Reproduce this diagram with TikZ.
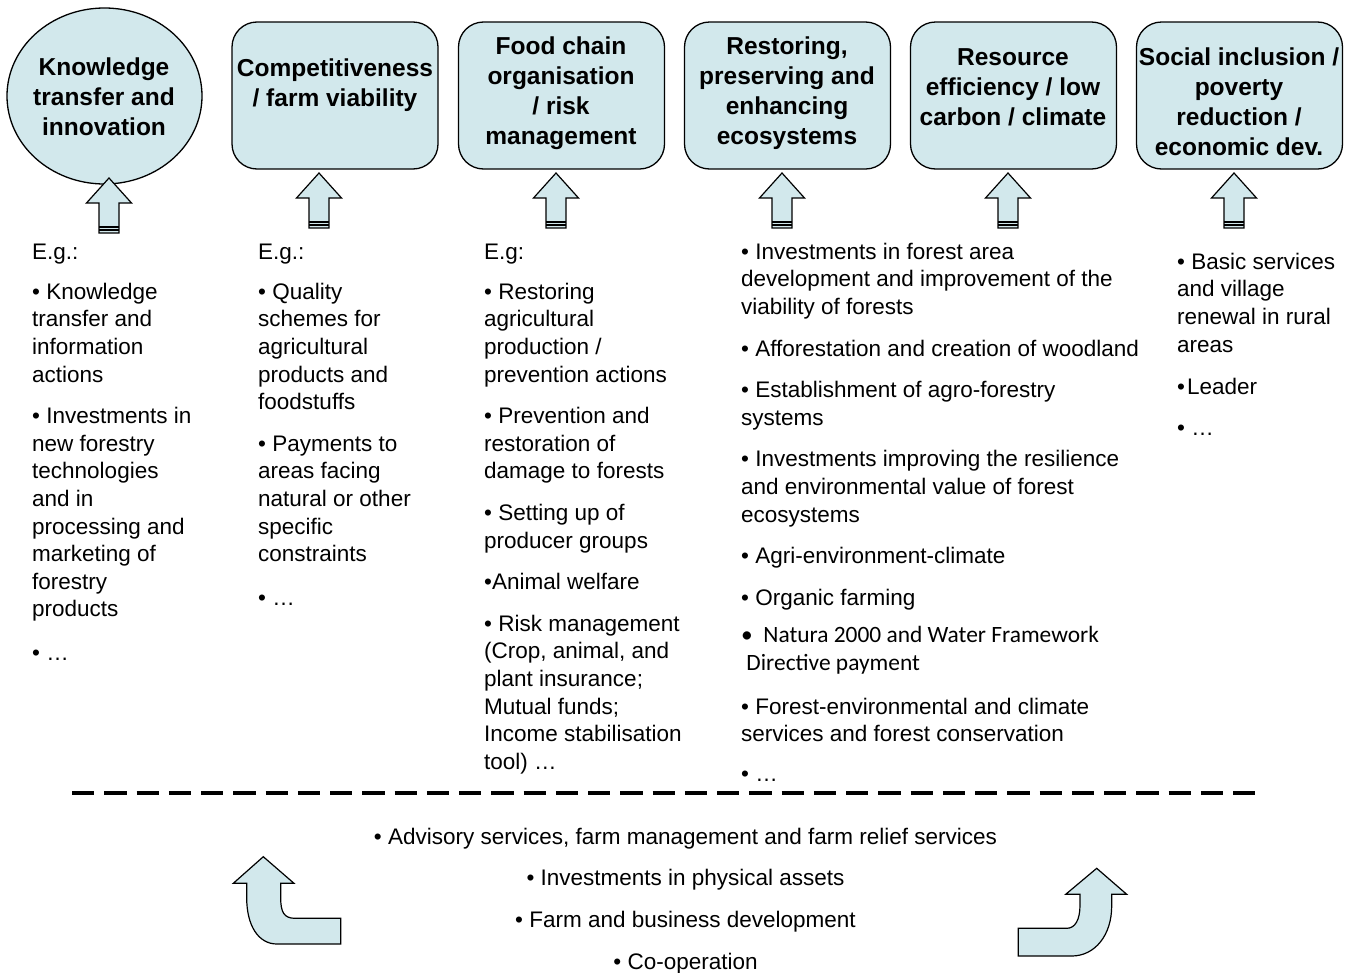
\documentclass[tikz,border=0pt]{standalone}
\usepackage{fontspec}
\setmainfont{Liberation Sans}
\newfontfamily\natfont{Carlito}
\usepackage{tikz}
\usetikzlibrary{shapes.geometric}

\definecolor{goalblue}{RGB}{210,232,236}

\begin{document}
\begin{tikzpicture}[x=1pt, y=-1pt,
	goal/.style={draw, fill=goalblue, line width=1.3pt, rounded corners=25pt, minimum width=206pt, minimum height=147pt, inner sep=0pt},
	goaltext/.style={font=\fontsize{24.5}{30}\selectfont\bfseries, align=center, inner sep=0pt},
	measures/.style={font=\fontsize{22.5}{27.6}\selectfont, align=left, anchor=north west, inner sep=0pt},
	blockarrow/.style={draw, fill=goalblue, line width=1.2pt, line join=miter},
	stripe/.style={line width=1.2pt}]
	\useasboundingbox (0,0) rectangle (1354,972);
	
	% priorities
	\node[goal, ellipse, rounded corners=0pt, minimum width=195pt, minimum height=176pt] (knowledge) at (104.5,96) {};
	\node[goal] (compet) at (335,95.5) {};
	\node[goal] (foodchain) at (561.5,95.5) {};
	\node[goal] (ecosys) at (787.5,95.5) {};
	\node[goal] (resource) at (1013.5,95.5) {};
	\node[goal] (social) at (1239.5,95.5) {};
	
	\node[goaltext] (knowledgetxt) at (104,97) {Knowledge\\transfer and\\innovation};
	\node[goaltext] (compettxt) at (335,85.5) {Competitiveness\\/ farm viability};
	\node[goaltext] (foodchaintxt) at (561,93) {Food chain\\organisation\\/ risk\\management};
	\node[goaltext] (ecosystxt) at (787,93) {Restoring,\\preserving and\\enhancing\\ecosystems};
	\node[goaltext] (resourcetxt) at (1013,87) {Resource\\efficiency / low\\carbon / climate};
	\node[goaltext] (socialtxt) at (1239,101.5) {Social inclusion /\\poverty\\reduction /\\economic dev.};
	
	% up arrows
	\filldraw[blockarrow] (109,178) -- ++(22.5,25) -- ++(-12.5,0) -- ++(0,30) -- ++(-20,0) -- ++(0,-30) -- ++(-12.5,0) -- cycle;
	\draw[stripe] (99,227) -- (119,227) (99,230) -- (119,230);
	\filldraw[blockarrow] (319,173) -- ++(22.5,25) -- ++(-12.5,0) -- ++(0,30) -- ++(-20,0) -- ++(0,-30) -- ++(-12.5,0) -- cycle;
	\draw[stripe] (309,222) -- (329,222) (309,225) -- (329,225);
	\filldraw[blockarrow] (556,173) -- ++(22.5,25) -- ++(-12.5,0) -- ++(0,30) -- ++(-20,0) -- ++(0,-30) -- ++(-12.5,0) -- cycle;
	\draw[stripe] (546,222) -- (566,222) (546,225) -- (566,225);
	\filldraw[blockarrow] (782,173) -- ++(22.5,25) -- ++(-12.5,0) -- ++(0,30) -- ++(-20,0) -- ++(0,-30) -- ++(-12.5,0) -- cycle;
	\draw[stripe] (772,222) -- (792,222) (772,225) -- (792,225);
	\filldraw[blockarrow] (1008,173) -- ++(22.5,25) -- ++(-12.5,0) -- ++(0,30) -- ++(-20,0) -- ++(0,-30) -- ++(-12.5,0) -- cycle;
	\draw[stripe] (998,222) -- (1018,222) (998,225) -- (1018,225);
	\filldraw[blockarrow] (1234,173) -- ++(22.5,25) -- ++(-12.5,0) -- ++(0,30) -- ++(-20,0) -- ++(0,-30) -- ++(-12.5,0) -- cycle;
	\draw[stripe] (1224,222) -- (1244,222) (1224,225) -- (1244,225);
	
	% measures per priority
	\node[measures] (knowledgelist) at (32,239.7) {\strut E.g.:\\[12.5pt]
		• Knowledge\\ transfer and\\ information\\ actions\\[14pt]
		• Investments in\\ new forestry\\ technologies\\ and in\\ processing and\\ marketing of\\ forestry\\ products\\[16pt]
		• …};
	\node[measures] (competlist) at (258,239.7) {\strut E.g.:\\[12.5pt]
		• Quality\\ schemes for\\ agricultural\\ products and\\ foodstuffs\\[14pt]
		• Payments to\\ areas facing\\ natural or other\\ specific\\ constraints\\[16pt]
		• …};
	\node[measures] (foodchainlist) at (484,239.7) {\strut E.g:\\[12.5pt]
		• Restoring\\ agricultural\\ production /\\ prevention actions\\[14pt]
		• Prevention and\\ restoration of\\ damage to forests\\[14pt]
		• Setting up of\\ producer groups\\[14pt]
		•Animal welfare\\[14pt]
		• Risk management\\ (Crop, animal, and\\ plant insurance;\\ Mutual funds;\\ Income stabilisation\\ tool) …};
	\node[measures] (ecosyslist) at (741,239.7) {\strut • Investments in forest area\\ development and improvement of the\\ viability of forests\\[14pt]
		• Afforestation and creation of woodland\\[14pt]
		• Establishment of agro-forestry\\ systems\\[14pt]
		• Investments improving the resilience\\ and environmental value of forest\\ ecosystems\\[14pt]
		• Agri-environment-climate\\[14pt]
		• Organic farming\\[10pt]
		{\natfont\fontsize{23.4}{27.6}\selectfont •\ \ Natura 2000 and Water Framework}\\ {\natfont\fontsize{23.4}{27.6}\selectfont\ Directive payment}\\[16pt]
		• Forest-environmental and climate\\ services and forest conservation\\[12.5pt]
		• …};
	\node[measures] (sociallist) at (1177,249.7) {\strut • Basic services\\ and village\\ renewal in rural\\ areas\\[15pt]
		•\hspace{2pt}Leader\\[13.5pt]
		• …};
	
	% separator
	\draw[line width=3.5pt, dash pattern=on 22.3pt off 9.95pt] (72,793) -- (1255,793);
	
	% horizontal measures
	\node[measures, anchor=north, align=center] (common) at (685.5,824.7) {\strut • Advisory services, farm management and farm relief services\\[14.1pt]
		• Investments in physical assets\\[14.1pt]
		• Farm and business development\\[14.1pt]
		• Co-operation};
	
	\filldraw[blockarrow] (263.3,856.7) -- (294,883.3) -- (280.7,883.3) -- (280.7,898) .. controls (280.7,912) and (284,918.3) .. (295,918.3) -- (340.7,918.3) -- (340.7,944) -- (277,944) .. controls (258,944) and (246.7,925) .. (246.7,898) -- (246.7,883.3) -- (233.3,883.3) -- cycle;
	\filldraw[blockarrow] (1096.7,868.3) -- (1126.7,894.3) -- (1111.7,894.3) -- (1111.7,906) .. controls (1111.7,935) and (1095,956) .. (1071.7,956) -- (1018.3,956) -- (1018.3,928.3) -- (1066.7,928.3) .. controls (1075,928.3) and (1080,920) .. (1080,905) -- (1080,894.3) -- (1065.7,894.3) -- cycle;
\end{tikzpicture}
\end{document}
